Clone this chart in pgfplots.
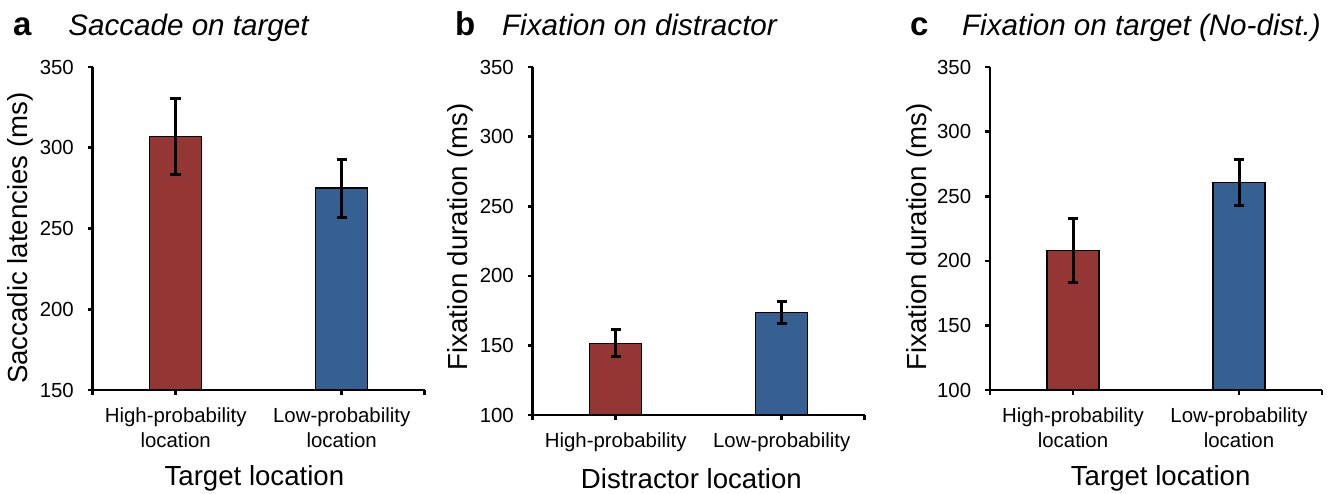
\documentclass[border=0pt]{standalone}
\usepackage{fontspec}
\setmainfont{Liberation Sans}
\usepackage{pgfplots}
\pgfplotsset{compat=1.18}
\definecolor{barred}{HTML}{943634}
\definecolor{barblue}{HTML}{366092}
\pgfplotsset{
  panel/.style={
    scale only axis, width=166pt, anchor=south west,
    axis lines=left, axis line style={-, line width=1.4pt, black},
    major tick length=2.5pt, tick align=outside,
    tick style={line width=1.3pt, black},
    xmin=0.5, xmax=2.5, xtick={0.5,1,2,2.5},
    ybar, bar width=26pt, bar shift=0pt,
    ytick distance=50,
    /pgf/number format/assume math mode=true,
    /pgf/number format/1000 sep={},
    ticklabel style={font=\fontsize{10.2}{12.2}\selectfont},
    xticklabel style={align=center, yshift=-3pt},
    yticklabel style={xshift=-3.4pt},
    label style={font=\fontsize{13.8}{16}\selectfont},
  },
  barplot/.style={draw=black, line width=0.7pt, fill=#1,
    error bars/.cd, y dir=both, y explicit,
    error bar style={line width=1.5pt, black},
    error mark options={rotate=90, mark size=2.6pt, line width=1.5pt, black}},
}
\begin{document}
\begin{tikzpicture}
\useasboundingbox (0,0) rectangle (665.5pt,-246.5pt);
% titles
\node[anchor=base west, font=\fontsize{16.5}{18}\selectfont\bfseries, inner sep=0] at (6.3pt,-17.5pt) {a};
\node[anchor=base west, font=\fontsize{14.8}{17}\selectfont\itshape, inner sep=0] at (34pt,-17.5pt) {Saccade on target};
\node[anchor=base west, font=\fontsize{16.5}{18}\selectfont\bfseries, inner sep=0] at (227.3pt,-17.5pt) {b};
\node[anchor=base west, font=\fontsize{14.8}{17}\selectfont\itshape, inner sep=0] at (250.85pt,-17.5pt) {Fixation on distractor};
\node[anchor=base west, font=\fontsize{16.5}{18}\selectfont\bfseries, inner sep=0] at (454.8pt,-17.5pt) {c};
\node[anchor=base west, font=\fontsize{14.8}{17}\selectfont\itshape, inner sep=0] at (480.85pt,-17.5pt) {Fixation on target (No-dist.)};

% panel a
\begin{axis}[panel, at={(46.35pt,-195pt)}, height=161.5pt,
  ymin=150, ymax=350,
  xticklabels={,High-probability\\location,Low-probability\\location,},
  xlabel={Target location}, ylabel={Saccadic latencies (ms)},
  xlabel style={at={(axis description cs:0.487,-0.275)}, anchor=center},
  ylabel style={at={(axis description cs:-0.219,0.47)}, anchor=center},
]
\addplot[barplot=barred] coordinates {(1,307) +- (0,23.5)};
\addplot[barplot=barblue] coordinates {(2,275) +- (0,18)};
\end{axis}

% panel b
\begin{axis}[panel, at={(266.35pt,-207.5pt)}, height=174pt,
  ymin=100, ymax=350,
  xticklabels={,High-probability,Low-probability,},
  xlabel={Distractor location}, ylabel={Fixation duration (ms)},
  xlabel style={at={(axis description cs:0.478,-0.184)}, anchor=center},
  ylabel style={at={(axis description cs:-0.2175,0.512)}, anchor=center},
]
\addplot[barplot=barred] coordinates {(1,151.5) +- (0,9.7)};
\addplot[barplot=barblue] coordinates {(2,173.5) +- (0,7.7)};
\end{axis}

% panel c
\begin{axis}[panel, at={(495pt,-195pt)}, height=161.5pt,
  ymin=100, ymax=350,
  xticklabels={,High-probability\\location,Low-probability\\location,},
  xlabel={Target location}, ylabel={Fixation duration (ms)},
  xlabel style={at={(axis description cs:0.514,-0.275)}, anchor=center},
  ylabel style={at={(axis description cs:-0.214,0.474)}, anchor=center},
]
\addplot[barplot=barred] coordinates {(1,208) +- (0,24.6)};
\addplot[barplot=barblue] coordinates {(2,260.5) +- (0,17.7)};
\end{axis}
\end{tikzpicture}
\end{document}
